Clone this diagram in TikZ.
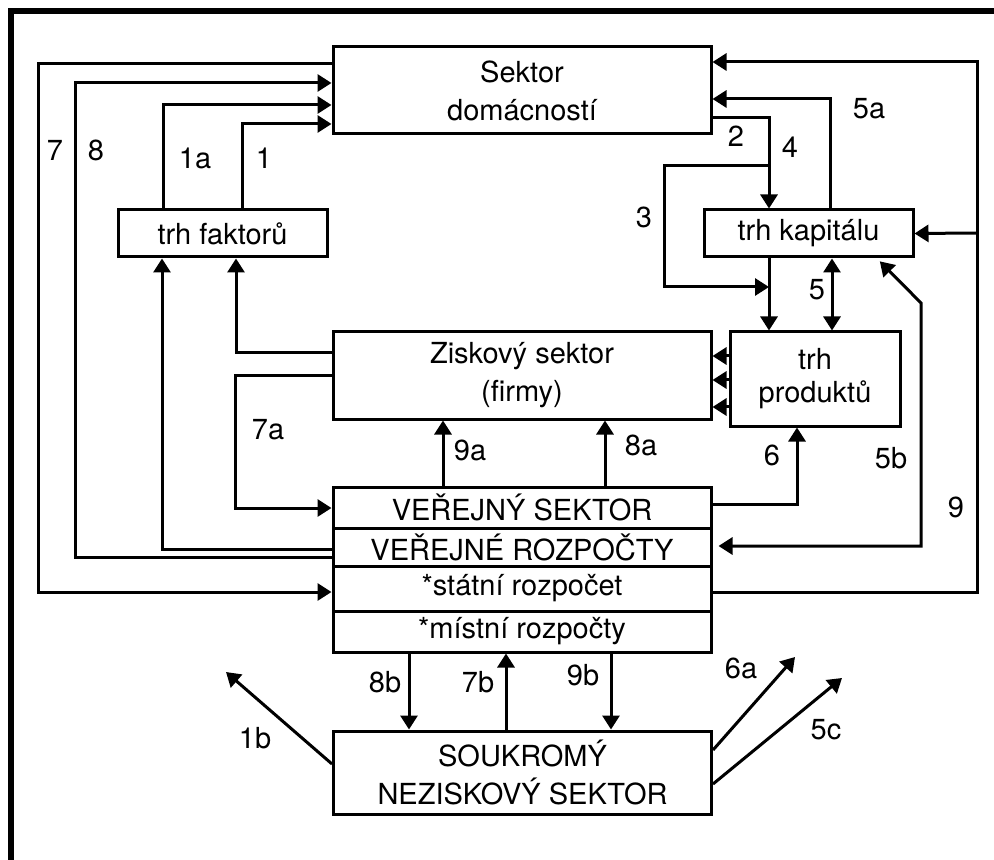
\documentclass[tikz,border=0pt]{standalone}
\usepackage{fontspec}
\setmainfont{TeX Gyre Heros}
\usetikzlibrary{arrows.meta}
\tikzstyle{blok}=[draw,rectangle,line width=1.5pt,align=center,inner sep=0pt,minimum width=189pt]
\tikzstyle{radek}=[blok,minimum height=20.5pt]
\tikzstyle{trh}=[blok,minimum width=104.5pt,minimum height=23.5pt]
\tikzstyle{popis}=[inner sep=0pt]
\tikzstyle{tok}=[->,>={Triangle[length=7pt,width=8.5pt]},line width=1.5pt]
\tikzstyle{ram}=[line width=3pt]
\begin{document}
\begin{tikzpicture}[x=0.5pt,y=-0.5pt,font=\fontsize{14.5}{19}\selectfont]
\useasboundingbox (0,0) rectangle (994,860);
\draw[ram] (11,860) -- (11,11) -- (994,11);
\node[blok,minimum height=43.5pt] (dom) at (522,90.5) {Sektor\\domácností};
\node[trh] (tf) at (222.5,233.5) {trh faktorů};
\node[trh] (tk) at (808.5,233.5) {trh kapitálu};
\node[blok,minimum height=43.5pt] (zisk) at (522,375.5) {Ziskový sektor\\(firmy)};
\node[blok,minimum width=85pt,minimum height=47pt,font=\fontsize{14.5}{16.5}\selectfont] (tp) at (815,379) {trh\\produktů};
\node[radek] (vs) at (522,507.5) {VEŘEJNÝ SEKTOR};
\node[radek,minimum height=19pt] (vr) at (522,547) {VEŘEJNÉ ROZPOČTY};
\node[radek,minimum height=22.5pt] (sr) at (522,588.5) {*státní rozpočet};
\node[radek] (mr) at (522,631.5) {*místní rozpočty};
\node[blok,minimum height=41.5pt] (sn) at (522.5,772.5) {SOUKROMÝ\\NEZISKOVÝ SEKTOR};
\coordinate (uzel9) at (977,233);
\coordinate (odb3) at (769,166);
\coordinate (pri3) at (769,287);
\coordinate (k1b) at (226,672);
\coordinate (k6a) at (795,657);
\coordinate (k5c) at (842,678);
%levá strana
\draw[tok] (dom.west |- 0,64) -| (38,300) |- (sr.west |- 0,592);
\draw[tok] (vr.west |- 0,557) -| (75,300) |- (dom.west |- 0,83);
\draw[tok] (tf.north -| 163,0) |- (dom.west |- 0,105);
\draw[tok] (tf.north -| 242,0) |- (dom.west |- 0,124);
\draw[tok] (vr.west |- 0,549) -| (tf.south -| 162,0);
\draw[tok] (zisk.west |- 0,353) -| (tf.south -| 236,0);
\draw[tok] (zisk.west |- 0,376) -| (235,450) |- (vs.west |- 0,508);
\draw[tok] (vs.north -| 443,0) -- (zisk.south -| 443,0);
\draw[tok] (vs.north -| 605,0) -- (zisk.south -| 605,0);
%pravá strana
\draw[tok] (vs.east |- 0,504) -| (tp.south -| 797,0);
\draw[tok,<->,shorten <=2pt,shorten >=3pt] (tk.south -| 877,0) -- (921,303) -- (921,546) -- (vr.east |- 0,546);
\draw[tok] (sr.east |- 0,592) -| (977,300) |- (dom.east |- 0,62);
\draw[tok] (uzel9) -- (tk.east);
\draw[tok] (tk.north -| 830,0) |- (dom.east |- 0,99);
\draw[tok] (dom.east |- 0,118) -| (tk.north -| 769,0);
\draw[tok] (odb3) -| (664,230) |- (pri3);
\draw[tok] (tk.south -| 769,0) -- (tp.north -| 769,0);
\draw[tok,<->] (tk.south -| 832,0) -- (tp.north -| 832,0);
\draw[tok] (tp.west |- 0,356) -- (zisk.east |- 0,356);
\draw[tok] (tp.west |- 0,380) -- (zisk.east |- 0,380);
\draw[tok] (tp.west |- 0,407) -- (zisk.east |- 0,407);
%dole
\draw[tok] (mr.south -| 409,0) -- (sn.north -| 409,0);
\draw[tok] (sn.north -| 506,0) -- (mr.south -| 506,0);
\draw[tok] (mr.south -| 611,0) -- (sn.north -| 611,0);
\draw[tok] (sn.west |- 0,764) -- (k1b);
\draw[tok] (sn.east |- 0,750) -- (k6a);
\draw[tok] (sn.east |- 0,784) -- (k5c);
%popisky
\node[popis] (p7) at (55,150) {7};
\node[popis] (p8) at (96,150) {8};
\node[popis] (p1a) at (195,158) {1a};
\node[popis] (p1) at (264,158) {1};
\node[popis] (p2) at (736,136) {2};
\node[popis] (p4) at (790,147) {4};
\node[popis] (p5a) at (869,109) {5a};
\node[popis] (p3) at (644,217) {3};
\node[popis] (p5) at (817,290) {5};
\node[popis] (p6) at (772,455) {6};
\node[popis] (p8a) at (641,445) {8a};
\node[popis] (p9a) at (470,450) {9a};
\node[popis] (p7a) at (268,430) {7a};
\node[popis] (p5b) at (891,458) {5b};
\node[popis] (p9) at (956,507) {9};
\node[popis] (p8b) at (385,682) {8b};
\node[popis] (p7b) at (478,682) {7b};
\node[popis] (p9b) at (583,675) {9b};
\node[popis] (p1b) at (255,738) {1b};
\node[popis] (p6a) at (741,668) {6a};
\node[popis] (p5c) at (826,730) {5c};
\end{tikzpicture}
\end{document}
